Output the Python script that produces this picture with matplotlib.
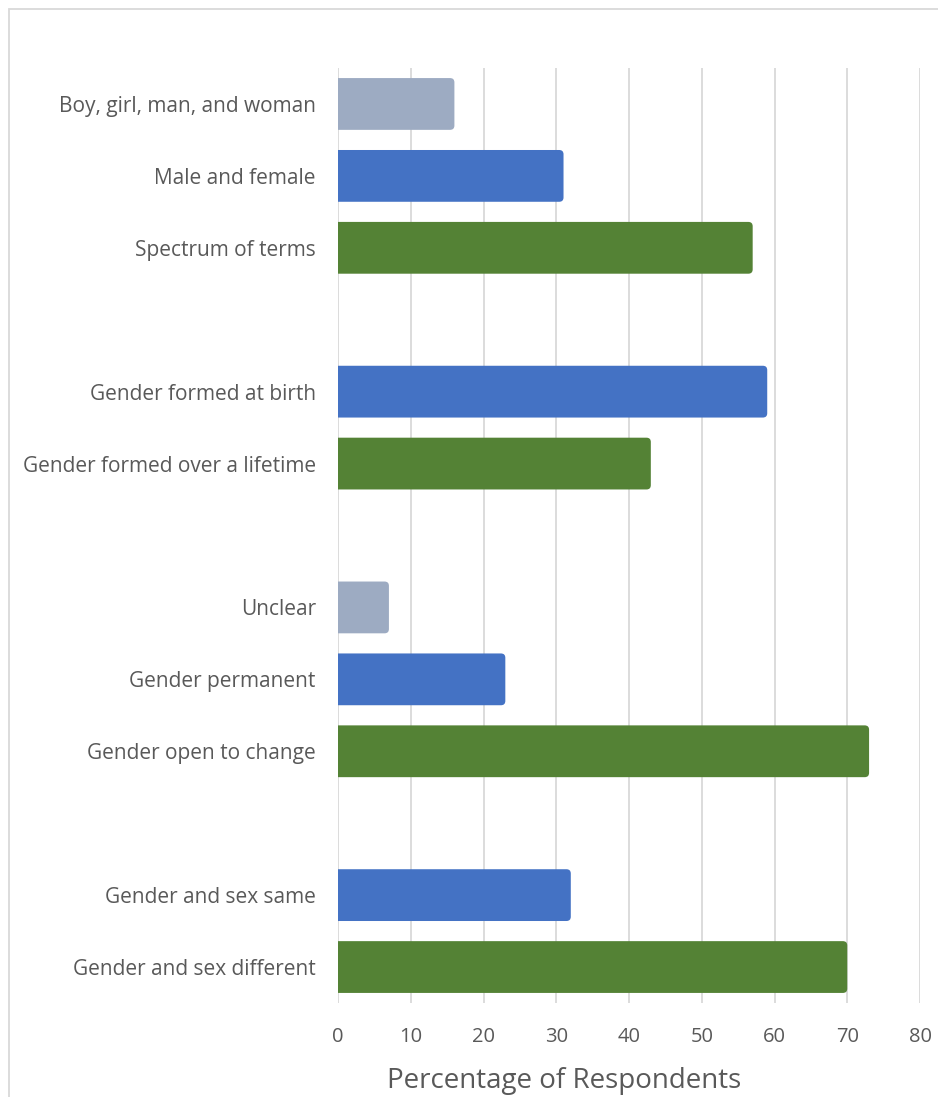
import matplotlib.pyplot as plt
from matplotlib.patches import FancyBboxPatch, Rectangle

plt.rcParams['font.family'] = ['Open Sans', 'DejaVu Sans']

# categories top to bottom, blank strings are the gaps between groups
labels = ['Boy, girl, man, and woman', 'Male and female', 'Spectrum of terms', '',
          'Gender formed at birth', 'Gender formed over a lifetime', '',
          'Unclear', 'Gender permanent', 'Gender open to change', '',
          'Gender and sex same', 'Gender and sex different']
values = [16, 31, 57, 0, 59, 43, 0, 7, 23, 73, 0, 32, 70]
colors = ['#9DABC2', '#4472C4', '#548235', 'none',
          '#4472C4', '#548235', 'none',
          '#9DABC2', '#4472C4', '#548235', 'none',
          '#4472C4', '#548235']
xticks = [0, 10, 20, 30, 40, 50, 60, 70, 80]

fig = plt.figure(figsize=(9.38, 10.97), dpi=100)
ax = fig.add_axes([338 / 938, 1 - 1003 / 1097, 582 / 938, 935 / 1097])

pos = list(range(len(labels)))
bars = ax.barh(pos, values, height=0.72, color=colors)

# swap the plain rectangles for ones with rounded right-hand corners
for b, c in zip(bars, colors):
    b.set_visible(False)
    if c == 'none':
        continue
    x0, y0, w, h = b.get_x(), b.get_y(), b.get_width(), b.get_height()
    p = FancyBboxPatch((x0 - 2, y0), w + 2, h,
                       boxstyle='round,pad=0,rounding_size=0.6',
                       mutation_aspect=0.1, facecolor=c, edgecolor='none',
                       zorder=3)
    ax.add_patch(p)

ax.set_xlim(0, 80)
ax.set_ylim(12.5, -0.5)
ax.set_xticks(xticks)
ax.set_yticks(pos)
ax.set_yticklabels(labels)
ax.tick_params(axis='y', length=0, pad=16, labelsize=15, labelcolor='#595959')
ax.tick_params(axis='x', length=0, pad=17, labelsize=14.5, labelcolor='#595959')
ax.grid(axis='x', color='#D9D9D9', linewidth=1.3, zorder=0)
ax.set_axisbelow(True)
for s in ax.spines.values():
    s.set_visible(False)
ax.set_xlabel('Percentage of Respondents', fontsize=20, color='#595959')
ax.xaxis.set_label_coords(226 / 582, -0.068)

# light chart-area border
fig.patches.append(Rectangle((9 / 938, -0.05), 1.2, 1 - 9 / 1097 + 0.05,
                             transform=fig.transFigure, fill=False,
                             edgecolor='#D9D9D9', linewidth=1.3))

fig.savefig('out.png', dpi=100)
